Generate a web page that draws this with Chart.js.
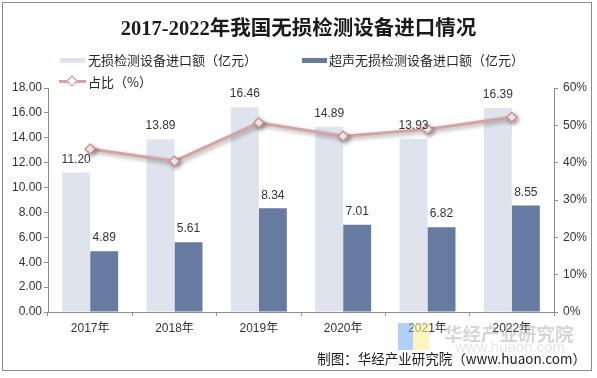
<!DOCTYPE html>
<html><head><meta charset="utf-8">
<script src="https://cdn.jsdelivr.net/npm/chart.js@4/dist/chart.umd.min.js"></script>
<style>
html,body{margin:0;padding:0;background:#fff;}
#wrap{position:relative;width:597px;height:378px;overflow:hidden;}
#frame{position:absolute;left:2px;top:2px;width:590px;height:369px;border:1px solid #8c8c8c;box-sizing:border-box;}
canvas{position:absolute;left:0;top:0;}
#title{position:absolute;left:0;width:597px;top:11px;text-align:center;font:bold 20.5px "Liberation Serif","Noto Sans CJK SC",serif;color:#1a1a1a;}
.leg{position:absolute;font:13px "Noto Sans CJK SC",sans-serif;color:#262626;line-height:15px;white-space:nowrap;}
.sw{position:absolute;height:5px;width:25px;}
#foot{position:absolute;right:11px;top:348px;font:13.5px "Noto Sans CJK SC","Liberation Sans",sans-serif;color:#1a1a1a;white-space:nowrap;}
#wm{position:absolute;left:444px;top:320px;font:bold 18.5px "Noto Sans CJK SC",sans-serif;color:rgba(150,150,150,0.4);white-space:nowrap;letter-spacing:0px;}
#wm2{position:absolute;left:455px;top:338px;font:15px "Liberation Sans",sans-serif;color:rgba(170,170,170,0.3);}
#logo1{position:absolute;left:398px;top:323px;width:15px;height:27px;background:rgba(120,170,240,0.55);}
#logo2{position:absolute;left:413px;top:323px;width:16px;height:27px;background:rgba(255,235,150,0.6);}
</style></head>
<body>
<div id="wrap">
<canvas id="c" width="597" height="378"></canvas>
<div id="frame"></div>
<div id="title">2017-2022年我国无损检测设备进口情况</div>
<div class="sw" style="left:60px;top:58px;background:#dee3ed"></div>
<div class="leg" style="left:88px;top:52px">无损检测设备进口额（亿元）</div>
<div class="sw" style="left:302px;top:58px;background:#677aa0"></div>
<div class="leg" style="left:329px;top:52px">超声无损检测设备进口额（亿元）</div>
<div style="position:absolute;left:59px;top:80px;width:27px;height:3px;background:#d6a3a3"></div>
<div style="position:absolute;left:68px;top:77px;width:6px;height:6px;background:#fff;border:1.5px solid #d08f8f;transform:rotate(45deg)"></div>
<div class="leg" style="left:88px;top:74px">占比（%）</div>
<div id="logo1"></div><div id="logo2"></div>
<div id="wm">华经产业研究院</div>
<div id="wm2">www.huaon.com</div>
<div id="foot">制图：华经产业研究院（www.huaon.com）</div>
</div>
<script>
const categories=['2017年','2018年','2019年','2020年','2021年','2022年'];
const totalImport=[11.20,13.89,16.46,14.89,13.93,16.39];
const ultrasonicImport=[4.89,5.61,8.34,7.01,6.82,8.55];
const sharePct=[43.66,40.39,50.67,47.08,48.96,52.17];
const seriesNames=['无损检测设备进口额（亿元）','超声无损检测设备进口额（亿元）','占比（%）'];

const barLabels={id:'barLabels',afterDatasetsDraw(chart){
  const ctx=chart.ctx;ctx.save();
  ctx.font='12px "Liberation Sans", Arial, sans-serif';ctx.fillStyle='#333';
  ctx.textAlign='center';ctx.textBaseline='middle';
  [0,1].forEach(di=>{
    const meta=chart.getDatasetMeta(di);
    meta.data.forEach((el,i)=>{
      ctx.fillText(chart.data.datasets[di].data[i].toFixed(2),el.x,el.y-13);
    });
  });
  ctx.restore();
}};
const lineShadow={id:'lineShadow',
  beforeDatasetDraw(chart,args){if(args.index===2){const c=chart.ctx;c.save();c.shadowColor='rgba(0,0,0,0.35)';c.shadowBlur=4;c.shadowOffsetX=2;c.shadowOffsetY=2;}},
  afterDatasetDraw(chart,args){if(args.index===2)chart.ctx.restore();}
};
const axisColor='#8c8c8c';
const tickFont={family:'"Liberation Sans", "Noto Sans CJK SC", sans-serif',size:12};
new Chart(document.getElementById('c'),{
  data:{labels:categories,datasets:[
    {type:'bar',label:seriesNames[0],data:totalImport,backgroundColor:'#dee3ed',yAxisID:'y',order:2,categoryPercentage:0.664,barPercentage:1},
    {type:'bar',label:seriesNames[1],data:ultrasonicImport,backgroundColor:'#677aa0',yAxisID:'y',order:2,categoryPercentage:0.664,barPercentage:1},
    {type:'line',label:seriesNames[2],data:sharePct,yAxisID:'y1',order:0,borderColor:'#d6a3a3',borderWidth:3,
     pointStyle:'rectRot',pointRadius:5,pointBackgroundColor:'#fff',pointBorderColor:'#d08f8f',pointBorderWidth:1.5,tension:0}
  ]},
  options:{responsive:false,animation:false,
    layout:{padding:{top:88,left:0,right:0,bottom:0}},
    plugins:{legend:{display:false},title:{display:false},tooltip:{enabled:false}},
    scales:{
      x:{grid:{offset:true,drawOnChartArea:false,tickLength:4,color:axisColor},border:{color:axisColor},
         ticks:{color:'#333',font:tickFont,padding:5,maxRotation:0},
         afterFit(s){s.height=66;}},
      y:{position:'left',min:0,max:18,ticks:{stepSize:2,color:'#333',font:tickFont,padding:2,callback:v=>Number(v).toFixed(2)},
         grid:{drawOnChartArea:false,tickLength:4,color:axisColor},border:{color:axisColor},
         afterFit(s){s.width=48;}},
      y1:{position:'right',min:0,max:60,ticks:{stepSize:10,color:'#333',font:tickFont,padding:5,callback:v=>v+'%'},
         grid:{drawOnChartArea:false,tickLength:4,color:axisColor},border:{color:axisColor},
         afterFit(s){s.width=43;}}
    }
  },
  plugins:[barLabels,lineShadow]
});
</script>
</body></html>
